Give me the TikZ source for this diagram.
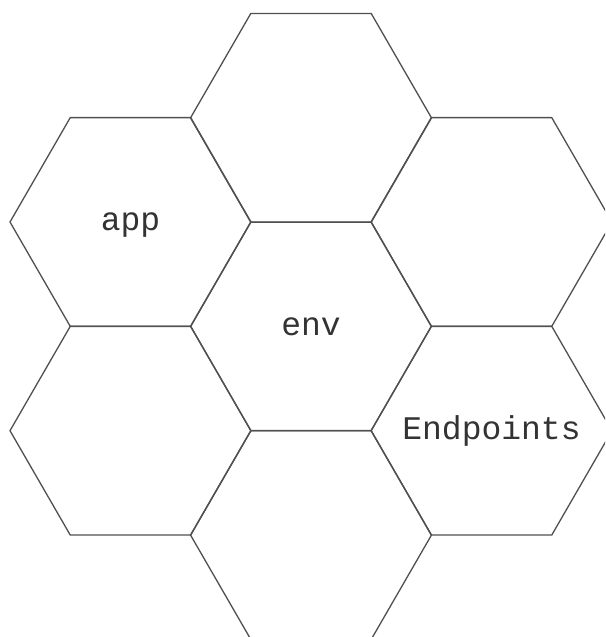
\documentclass[tikz,border=0pt]{standalone}
\usepackage{fontspec}
\setmonofont{Liberation Mono}
\usetikzlibrary{shapes.geometric}
\definecolor{hexline}{RGB}{80,80,80}
\definecolor{hextext}{RGB}{51,51,51}
\newcommand{\hextxt}[1]{\makebox[0pt]{\raisebox{-9pt}[0pt][0pt]{#1}}}
\tikzset{
  hex/.style={regular polygon, regular polygon sides=6, minimum size=241pt,
    inner sep=0pt, outer sep=0pt, draw=hexline, line width=1.3pt,
    text=hextext, font=\ttfamily\fontsize{33}{36}\selectfont}
}
\begin{document}
\begin{tikzpicture}[x=1pt,y=1pt]
\useasboundingbox (0,0) rectangle (605,637);
\clip (0,0) rectangle (605,637);
\fill[white] (0,0) rectangle (605,637);
\node[hex] (top) at (311,519.1) {};
\node[hex] (app) at (130.5,415) {\hextxt{app}};
\node[hex] (topright) at (491.5,415) {};
\node[hex] (env) at (311,310.7) {\hextxt{env}};
\node[hex] (bottomleft) at (130.5,206.3) {};
\node[hex] (endpoints) at (491.5,206.3) {\hextxt{Endpoints}};
\node[hex] (bottom) at (311,102) {};
\end{tikzpicture}
\end{document}
